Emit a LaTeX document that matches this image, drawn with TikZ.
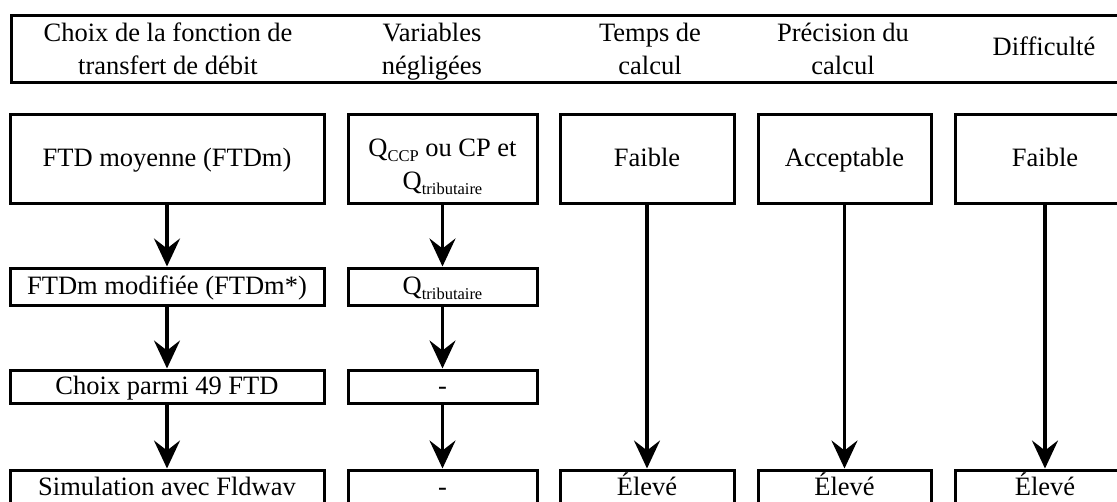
\documentclass[tikz,border=0pt]{standalone}
\usepackage{fontspec}
\setmainfont{Liberation Serif}
\usetikzlibrary{arrows.meta}
\newcommand\qsub[1]{\raisebox{-5pt}{\fontsize{16.5}{18}\selectfont #1}}
\begin{document}
\begin{tikzpicture}[x=1pt,y=-1pt,
  box/.style={draw, line width=3pt, rectangle, inner sep=0pt,
    font=\fontsize{26.5}{33}\selectfont, text height=16.5pt, text depth=0pt},
  bigbox/.style={box, minimum height=89pt},
  midbox/.style={box, minimum height=37pt},
  smallbox/.style={box, minimum height=33pt},
  lowbox/.style={box, minimum height=35pt},
  wA/.style={minimum width=314pt},
  wB/.style={minimum width=189pt},
  wC/.style={minimum width=174pt},
  wD/.style={minimum width=173pt},
  wE/.style={minimum width=180pt},
  flow/.style={line width=3.5pt, -{Stealth[length=28pt,width=26pt,inset=10pt]}},
  hdr/.style={inner sep=0pt, anchor=base, font=\fontsize{26.5}{33}\selectfont}
]
\useasboundingbox (0,0) rectangle (1117,501);
\clip (0,0) rectangle (1117,501);

% header
\node[draw, line width=3pt, inner sep=0pt, anchor=north west,
      minimum width=1130pt, minimum height=67pt] (header) at (10,14) {};
\node[hdr] (h1) at (168,41) {\begin{tabular}[t]{@{}c@{}}Choix de la fonction de\\transfert de débit\end{tabular}};
\node[hdr] (h2) at (432,41) {\begin{tabular}[t]{@{}c@{}}Variables\\négligées\end{tabular}};
\node[hdr] (h3) at (650,41) {\begin{tabular}[t]{@{}c@{}}Temps de\\calcul\end{tabular}};
\node[hdr] (h4) at (843,41) {\begin{tabular}[t]{@{}c@{}}Précision du\\calcul\end{tabular}};
\node[hdr] (h5) at (1044,55) {Difficulté};

% row 1
\node[bigbox, wA] (c1r1) at (167,158.5) {FTD moyenne (FTDm)};
\node[bigbox, wB, text height=16.5pt, text depth=21.5pt] (c2r1) at (442.5,158.5)
  {\begin{tabular}[t]{@{}c@{}}Q\qsub{CCP} ou CP et\\Q\qsub{tributaire}\end{tabular}};
\node[bigbox, wC] (c3r1) at (647,158.5) {Faible};
\node[bigbox, wD] (c4r1) at (844.5,158.5) {Acceptable};
\node[bigbox, wE] (c5r1) at (1045,158.5) {Faible};

% row 2
\node[midbox, wA] (c1r2) at (167,286.5) {FTDm modifiée (FTDm*)};
\node[midbox, wB] (c2r2) at (442.5,286.5) {Q\qsub{tributaire}};

% row 3
\node[smallbox, wA] (c1r3) at (167,386.5) {Choix parmi 49 FTD};
\node[smallbox, wB] (c2r3) at (442.5,386.5) {-};

% row 4
\node[lowbox, wA] (c1r4) at (167,487.5) {Simulation avec Fldwav};
\node[lowbox, wB] (c2r4) at (442.5,487.5) {-};
\node[lowbox, wC] (c3r4) at (647,487.5) {Élevé};
\node[lowbox, wD] (c4r4) at (844.5,487.5) {Élevé};
\node[lowbox, wE] (c5r4) at (1045,487.5) {Élevé};

% arrows
\draw[flow] (c1r1.south) -- (c1r2.north);
\draw[flow] (c1r2.south) -- (c1r3.north);
\draw[flow] (c1r3.south) -- (c1r4.north);
\draw[flow] (c2r1.south) -- (c2r2.north);
\draw[flow] (c2r2.south) -- (c2r3.north);
\draw[flow] (c2r3.south) -- (c2r4.north);
\draw[flow] (c3r1.south) -- (c3r4.north);
\draw[flow] (c4r1.south) -- (c4r4.north);
\draw[flow] (c5r1.south) -- (c5r4.north);
\end{tikzpicture}
\end{document}
